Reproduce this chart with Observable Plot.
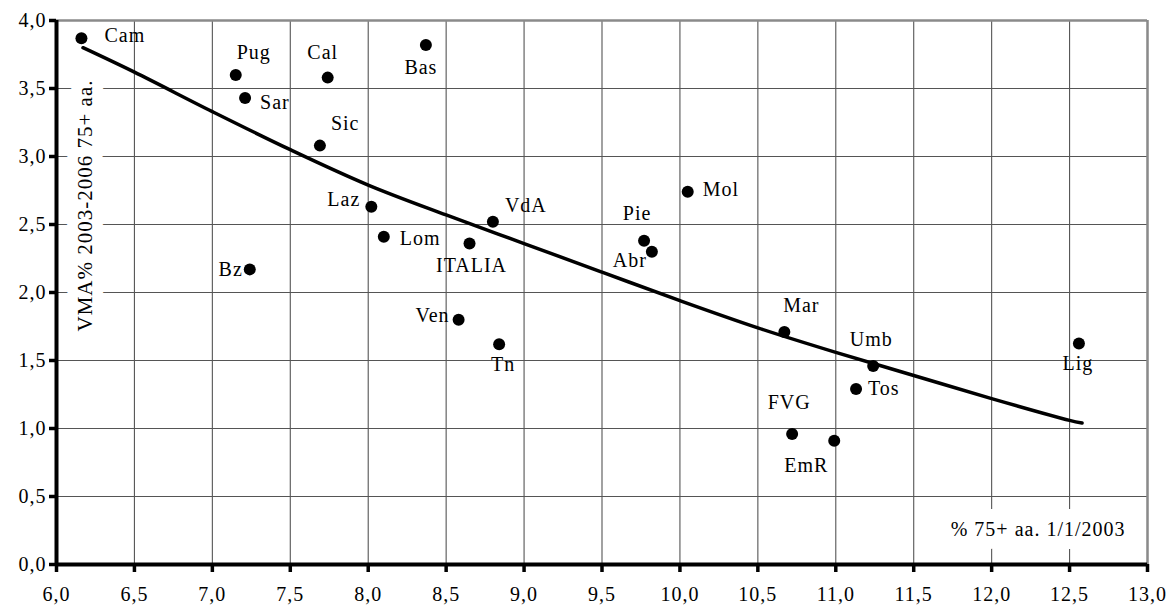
<!DOCTYPE html>
<html>
<head>
<meta charset="utf-8">
<script src="https://cdn.jsdelivr.net/npm/d3@7"></script>
<script src="https://cdn.jsdelivr.net/npm/@observablehq/plot@0.6"></script>
<style>
  html, body { margin: 0; padding: 0; background: #fff; }
  #chart svg { display: block; }
</style>
</head>
<body>
<div id="chart"></div>
<script>
// ---- data ----
const regions = ["Cam","Pug","Sar","Cal","Sic","Bas","Laz","Lom","Bz","ITALIA","VdA","Ven","Tn","Mol","Pie","Abr","Mar","Umb","Tos","FVG","EmR","Lig"];
const pct75plus = [6.16,7.15,7.21,7.74,7.69,8.37,8.02,8.10,7.24,8.65,8.80,8.58,8.84,10.05,9.77,9.82,10.67,11.24,11.13,10.72,10.99,12.56];
const vmaPct = [3.87,3.60,3.43,3.58,3.08,3.82,2.63,2.41,2.17,2.36,2.52,1.80,1.62,2.74,2.38,2.30,1.71,1.46,1.29,0.96,0.91,1.625];

const trendX = [6.17,6.5,7.0,7.5,8.0,8.5,9.0,9.5,10.0,10.5,11.0,11.5,12.0,12.5,12.58];
const trendY = [3.80,3.62,3.33,3.05,2.79,2.57,2.36,2.15,1.94,1.74,1.56,1.39,1.22,1.06,1.04];

const xTicks = [6.0,6.5,7.0,7.5,8.0,8.5,9.0,9.5,10.0,10.5,11.0,11.5,12.0,12.5,13.0];
const yTicks = [0.0,0.5,1.0,1.5,2.0,2.5,3.0,3.5,4.0];

const yTitle = "VMA% 2003-2006 75+ aa.";
const xTitle = "% 75+ aa. 1/1/2003";

// label placement (dx, dy, anchor) kept apart from the data
const labelPlacement = {
  Cam: [23, -3, "start"], Pug: [1, -22, "start"], Sar: [15, 5, "start"],
  Cal: [-5, -25, "middle"], Sic: [11, -22, "start"], Bas: [-5, 23, "middle"],
  Laz: [-11, -7, "end"], Lom: [16, 2, "start"], Bz: [-7, 0, "end"],
  ITALIA: [2, 22, "middle"], VdA: [12, -16, "start"], Ven: [-9, -4, "end"],
  Tn: [4, 20, "middle"], Mol: [15, -2, "start"], Pie: [-7, -27, "middle"],
  Abr: [-5, 9, "end"], Mar: [17, -26, "middle"], Umb: [-2, -26, "middle"],
  Tos: [12, 0, "start"], FVG: [-3, -31, "middle"], EmR: [-28, 25, "middle"],
  Lig: [-1, 20, "middle"]
};

const FONT = "Times New Roman, Liberation Serif, Tinos, DejaVu Serif, serif";

// ---- tables built from the arrays ----
const points = regions.map((name, i) => ({name, x: pct75plus[i], y: vmaPct[i]}));
const trend = trendX.map((x, i) => ({x, y: trendY[i]}));
const fmt = d => d.toFixed(1).replace(".", ",");

const labelMarks = points.map(p => {
  const [dx, dy, anchor] = labelPlacement[p.name];
  return Plot.text([p], {x: "x", y: "y", text: "name", dx, dy, textAnchor: anchor, fill: "black", fontFamily: FONT, fontSize: 20});
});

const chart = Plot.plot({
  width: 1175,
  height: 609,
  marginLeft: 56,
  marginRight: 28,
  marginTop: 20,
  marginBottom: 45,
  style: {fontFamily: FONT, fontSize: "20px", background: "#fff", color: "#000", letterSpacing: "1px"},
  x: {domain: [6, 13]},
  y: {domain: [0, 4]},
  marks: [
    Plot.ruleX(xTicks, {stroke: "#555", strokeWidth: 1.1}),
    Plot.ruleY(yTicks, {stroke: "#555", strokeWidth: 1.1}),
    Plot.ruleX([13], {stroke: "#8a8a8a", strokeWidth: 2.5}),
    Plot.ruleY([4], {stroke: "#8a8a8a", strokeWidth: 2.5}),
    Plot.text([yTitle], {frameAnchor: "left", textAnchor: "middle", rotate: -90, dx: 29, dy: -87, fill: "black", stroke: "white", strokeWidth: 22, paintOrder: "stroke", fontFamily: FONT, fontSize: 21}),
    Plot.text([xTitle], {frameAnchor: "bottom-right", textAnchor: "end", dx: -22, dy: -29, fill: "black", stroke: "white", strokeWidth: 26, paintOrder: "stroke", fontFamily: FONT, fontSize: 20}),
    Plot.line(trend, {x: "x", y: "y", curve: "catmull-rom", stroke: "black", strokeWidth: 3.5, strokeLinejoin: "round", strokeLinecap: "round"}),
    Plot.dot(points, {x: "x", y: "y", r: 6, fill: "black", stroke: "none"}),
    ...labelMarks,
    Plot.ruleX([6], {stroke: "black", strokeWidth: 4}),
    Plot.ruleY([0], {stroke: "black", strokeWidth: 4}),
    Plot.axisX({ticks: xTicks, tickFormat: fmt, tickSize: 8, tickPadding: 14, strokeWidth: 3.5, fontSize: 20, fontFamily: FONT, label: null}),
    Plot.axisY({ticks: yTicks, tickFormat: fmt, tickSize: 7, tickPadding: 3, strokeWidth: 3.5, fontSize: 20, fontFamily: FONT, label: null})
  ]
});
document.getElementById("chart").appendChild(chart);
</script>
</body>
</html>
